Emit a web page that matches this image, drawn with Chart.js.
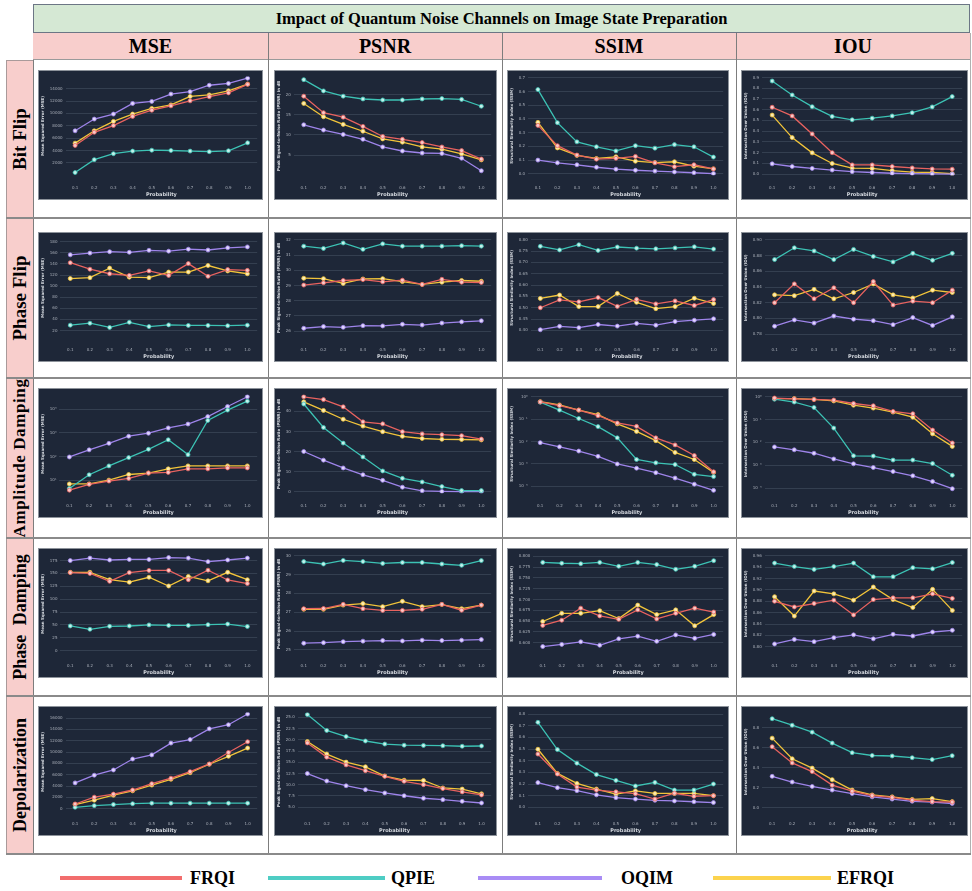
<!DOCTYPE html>
<html>
<head>
<meta charset="utf-8">
<script src="https://cdn.jsdelivr.net/npm/chart.js@4.4.1/dist/chart.umd.min.js"></script>
<style>
html,body{margin:0;padding:0;background:#ffffff;}
#page{position:relative;width:972px;height:891px;overflow:hidden;font-family:"Liberation Serif","Times New Roman",serif;color:#000;}
.abs{position:absolute;box-sizing:border-box;}
.title{left:33px;top:4px;width:937px;height:29px;background:#d5e8d4;border:1px solid #6c7685;display:flex;align-items:center;justify-content:center;font-weight:bold;font-size:16.5px;}
.hdrband{left:33px;top:33px;width:937px;height:27px;background:#f8cecc;border-bottom:1px solid #9a9a9a;}
.colhdr{top:33px;height:27px;display:flex;align-items:center;justify-content:center;font-weight:bold;font-size:20px;}
.rowhdr{left:6px;width:28px;background:#f8cecc;border:1px solid #a99a9a;}
.rowhdr span{position:absolute;left:50%;top:50%;transform:translate(-50%,-50%) rotate(-90deg);white-space:nowrap;font-weight:bold;}
.vline{width:1px;background:#7d7d7d;}
.hline{height:1.5px;background:#8a8a8a;}
.panel{background:#1e2738;border:1px solid #8d939b;}
.panel canvas{display:block;}
.legline{height:4px;top:876px;}
.legtxt{top:866px;font-weight:bold;font-size:18px;line-height:24px;}
</style>
</head>
<body>
<div id="page">
  <div class="abs title">Impact of Quantum Noise Channels on Image State Preparation</div>
  <div class="abs hdrband"></div>
  <div id="layout"></div>
</div>
<script>
// ---------- categories / labels ----------
const probabilities = ['0.1','0.2','0.3','0.4','0.5','0.6','0.7','0.8','0.9','1.0'];
const seriesNames = ['FRQI','QPIE','OQIM','EFRQI'];
const metrics = ['MSE','PSNR','SSIM','IOU'];
const channels = ['Bit Flip','Phase Flip','Amplitude Damping','Phase Damping','Depolarization'];
const axisTitles = ['Mean Squared Error (MSE)','Peak Signal-to-Noise Ratio (PSNR) in dB','Structural Similarity Index (SSIM)','Intersection Over Union (IOU)'];

// ---------- series values: [FRQI, QPIE, OQIM, EFRQI] ----------
const bitFlipMSE = [
  [4810, 6950, 8040, 9520, 10520, 11230, 12040, 12710, 13330, 14710],
  [430, 2520, 3480, 3900, 4050, 4000, 3900, 3810, 3950, 5240],
  [7190, 9090, 9900, 11620, 11950, 13140, 13520, 14570, 14860, 15710],
  [5190, 7190, 8710, 9900, 10810, 11380, 12760, 13000, 13660, 14760]
];
const bitFlipPSNR = [
  [19.6, 15.5, 14.4, 12.1, 9.6, 8.9, 8.1, 7.0, 6.1, 4.0],
  [23.7, 20.9, 19.6, 18.9, 18.65, 18.65, 18.9, 19.0, 18.8, 17.1],
  [12.5, 11.2, 10.1, 8.9, 7.0, 6.0, 5.5, 5.4, 4.2, 1.1],
  [17.8, 14.5, 12.6, 10.9, 9.0, 8.2, 7.0, 6.45, 5.3, 3.8]
];
const bitFlipSSIM = [
  [0.353, 0.205, 0.137, 0.107, 0.113, 0.127, 0.080, 0.052, 0.066, 0.036],
  [0.614, 0.373, 0.233, 0.197, 0.167, 0.205, 0.187, 0.213, 0.197, 0.122],
  [0.100, 0.080, 0.066, 0.048, 0.034, 0.026, 0.020, 0.014, 0.008, 0.002],
  [0.375, 0.189, 0.134, 0.112, 0.124, 0.092, 0.082, 0.088, 0.056, 0.036]
];
const bitFlipIOU = [
  [0.623, 0.542, 0.374, 0.200, 0.086, 0.086, 0.071, 0.058, 0.048, 0.046],
  [0.867, 0.737, 0.628, 0.537, 0.506, 0.521, 0.542, 0.572, 0.626, 0.722],
  [0.096, 0.071, 0.053, 0.038, 0.023, 0.015, 0.008, 0.005, 0.002, 0.000],
  [0.550, 0.340, 0.198, 0.099, 0.056, 0.053, 0.033, 0.018, 0.015, 0.005]
];
const phaseFlipMSE = [
  [142.2, 130.5, 122.3, 119.3, 127.4, 119.3, 140.6, 117.7, 129.9, 128.4],
  [29.7, 33.2, 25.6, 34.8, 27.1, 30.2, 29.2, 29.2, 28.7, 29.7],
  [156.4, 159.5, 162.0, 161.0, 164.6, 163.0, 166.6, 165.1, 169.1, 170.7],
  [113.7, 115.2, 132.5, 116.2, 115.2, 125.4, 125.4, 137.1, 127.4, 122.3]
];
const phaseFlipPSNR = [
  [29.03, 29.18, 29.33, 29.39, 29.24, 29.35, 29.07, 29.41, 29.22, 29.20],
  [31.59, 31.44, 31.80, 31.38, 31.74, 31.59, 31.59, 31.59, 31.62, 31.59],
  [26.19, 26.30, 26.25, 26.36, 26.34, 26.45, 26.40, 26.53, 26.61, 26.68],
  [29.48, 29.45, 29.14, 29.43, 29.45, 29.26, 29.07, 29.22, 29.33, 29.28]
];
const phaseFlipSSIM = [
  [0.500, 0.535, 0.526, 0.545, 0.506, 0.537, 0.517, 0.530, 0.510, 0.536],
  [0.771, 0.755, 0.778, 0.753, 0.768, 0.763, 0.760, 0.764, 0.769, 0.759],
  [0.403, 0.418, 0.412, 0.426, 0.419, 0.431, 0.423, 0.439, 0.445, 0.451],
  [0.541, 0.556, 0.505, 0.505, 0.563, 0.524, 0.496, 0.505, 0.542, 0.519]
];
const phaseFlipIOU = [
  [0.820, 0.844, 0.825, 0.839, 0.820, 0.847, 0.817, 0.822, 0.820, 0.836],
  [0.875, 0.890, 0.886, 0.875, 0.888, 0.879, 0.872, 0.883, 0.874, 0.883],
  [0.790, 0.798, 0.794, 0.803, 0.799, 0.797, 0.792, 0.801, 0.791, 0.802],
  [0.830, 0.829, 0.837, 0.825, 0.833, 0.844, 0.830, 0.826, 0.836, 0.833]
];
const ampDampMSE = [
  [3.9, 6.9, 9.4, 12.2, 20.5, 21.8, 30.7, 30.7, 33.5, 33.5],
  [4.6, 17.3, 41, 91.7, 205, 516, 122, 3350, 9170, 21750],
  [97.2, 194, 365, 729, 972, 1631, 2371, 4870, 12960, 33500],
  [7.1, 7.1, 10.3, 17.8, 20.5, 30.7, 41, 41, 41, 41]
];
const ampDampPSNR = [
  [47.3, 45.9, 42.3, 34.8, 33.8, 29.9, 28.8, 28.4, 27.9, 26.2],
  [43.7, 32.0, 24.2, 17.3, 10.3, 6.6, 4.8, 2.5, 0.5, 0.5],
  [20.0, 15.7, 11.8, 8.4, 5.6, 2.2, 0.4, 0.1, 0.0, 0.0],
  [44.8, 40.5, 36.1, 32.7, 29.9, 27.6, 26.5, 26.1, 26.0, 25.8]
];
const ampDampSSIM = [
  [0.579, 0.398, 0.251, 0.141, 0.0668, 0.0473, 0.01454, 0.00708, 0.00237, 0.000447],
  [0.562, 0.251, 0.106, 0.046, 0.01454, 0.00158, 0.00112, 0.000944, 0.000345, 0.000274],
  [0.00891, 0.00579, 0.00376, 0.00218, 0.0010, 0.00065, 0.00041, 0.000237, 0.000126, 0.0000668],
  [0.596, 0.422, 0.251, 0.158, 0.0613, 0.0282, 0.0109, 0.00326, 0.00158, 0.000422]
];
const ampDampIOU = [
  [0.866, 0.794, 0.750, 0.708, 0.501, 0.398, 0.224, 0.178, 0.0345, 0.00944],
  [0.772, 0.579, 0.335, 0.0422, 0.00259, 0.00251, 0.00168, 0.00168, 0.00119, 0.000365],
  [0.00631, 0.00473, 0.00335, 0.00188, 0.00115, 0.000794, 0.000531, 0.000345, 0.000194, 0.0000944],
  [0.818, 0.818, 0.750, 0.649, 0.422, 0.316, 0.211, 0.126, 0.0237, 0.00668]
];
const phaseDampMSE = [
  [151.6, 150.0, 134.6, 151.6, 155.9, 155.9, 137.8, 156.4, 137.3, 130.3],
  [47.9, 41.5, 47.3, 47.9, 50.0, 48.9, 48.9, 50.5, 51.6, 46.8],
  [175.0, 179.8, 176.1, 177.2, 177.2, 180.9, 179.8, 172.9, 176.1, 179.8],
  [152.2, 152.2, 137.8, 133.0, 142.6, 125.6, 144.2, 135.7, 152.2, 137.8]
];
const phaseDampPSNR = [
  [27.19, 27.20, 27.42, 27.19, 27.10, 27.10, 27.16, 27.42, 27.11, 27.38],
  [29.69, 29.56, 29.75, 29.69, 29.59, 29.64, 29.64, 29.56, 29.49, 29.74],
  [25.36, 25.39, 25.44, 25.47, 25.50, 25.48, 25.52, 25.50, 25.52, 25.55],
  [27.16, 27.16, 27.38, 27.46, 27.30, 27.58, 27.30, 27.41, 27.19, 27.38]
];
const phaseDampSSIM = [
  [0.640, 0.652, 0.680, 0.662, 0.654, 0.676, 0.655, 0.668, 0.680, 0.671],
  [0.786, 0.784, 0.783, 0.786, 0.777, 0.786, 0.781, 0.770, 0.777, 0.790],
  [0.591, 0.596, 0.602, 0.594, 0.609, 0.615, 0.603, 0.618, 0.610, 0.619],
  [0.649, 0.668, 0.668, 0.674, 0.656, 0.687, 0.665, 0.676, 0.639, 0.665]
];
const phaseDampIOU = [
  [0.880, 0.870, 0.876, 0.882, 0.856, 0.883, 0.886, 0.886, 0.893, 0.885],
  [0.947, 0.941, 0.936, 0.941, 0.947, 0.923, 0.923, 0.939, 0.937, 0.948],
  [0.805, 0.813, 0.809, 0.816, 0.821, 0.814, 0.822, 0.819, 0.826, 0.829],
  [0.888, 0.854, 0.898, 0.893, 0.882, 0.905, 0.883, 0.869, 0.901, 0.864]
];
const depolMSE = [
  [823, 2034, 2567, 3293, 4407, 5376, 6538, 7894, 9928, 11817],
  [242, 533, 726, 872, 969, 969, 969, 969, 969, 969],
  [4552, 5908, 6829, 8766, 9492, 11575, 12204, 14093, 14820, 16708],
  [726, 1501, 2373, 3148, 4165, 5182, 6344, 7845, 9250, 10703]
];
const depolPSNR = [
  [19.30, 16.14, 14.41, 13.11, 11.87, 10.76, 10.01, 9.15, 8.40, 7.72],
  [25.61, 22.08, 20.72, 19.73, 19.05, 18.80, 18.74, 18.68, 18.56, 18.62],
  [12.49, 10.82, 9.77, 8.90, 8.16, 7.54, 6.98, 6.67, 6.30, 5.93],
  [19.61, 16.82, 15.03, 13.98, 11.93, 11.00, 10.94, 9.27, 9.02, 7.97]
];
const depolSSIM = [
  [0.457, 0.286, 0.174, 0.148, 0.133, 0.117, 0.071, 0.121, 0.095, 0.100],
  [0.729, 0.495, 0.379, 0.281, 0.231, 0.183, 0.214, 0.148, 0.148, 0.200],
  [0.212, 0.169, 0.143, 0.107, 0.083, 0.071, 0.060, 0.055, 0.048, 0.041],
  [0.498, 0.291, 0.205, 0.157, 0.114, 0.141, 0.119, 0.119, 0.119, 0.100]
];
const depolIOU = [
  [0.611, 0.449, 0.362, 0.227, 0.167, 0.123, 0.104, 0.077, 0.063, 0.058],
  [0.890, 0.825, 0.756, 0.647, 0.551, 0.523, 0.518, 0.501, 0.482, 0.521],
  [0.315, 0.258, 0.214, 0.178, 0.143, 0.110, 0.088, 0.066, 0.058, 0.044],
  [0.696, 0.490, 0.397, 0.282, 0.178, 0.129, 0.110, 0.085, 0.093, 0.063]
];

// ---------- tick labels ----------
const bitFlipMSETicks = [2000, 4000, 6000, 8000, 10000, 12000, 14000];
const bitFlipPSNRTicks = [5, 10, 15, 20];
const bitFlipSSIMTicks = [0.0, 0.1, 0.2, 0.3, 0.4, 0.5, 0.6, 0.7];
const bitFlipIOUTicks = [0.0, 0.1, 0.2, 0.3, 0.4, 0.5, 0.6, 0.7, 0.8, 0.9];
const phaseFlipMSETicks = [20, 40, 60, 80, 100, 120, 140, 160, 180];
const phaseFlipPSNRTicks = [26, 27, 28, 29, 30, 31, 32];
const phaseFlipSSIMTicks = [0.40, 0.45, 0.50, 0.55, 0.60, 0.65, 0.70, 0.75, 0.80];
const phaseFlipIOUTicks = [0.78, 0.80, 0.82, 0.84, 0.86, 0.88, 0.90];
const ampDampMSETicks = [10, 100, 1000, 10000];
const ampDampPSNRTicks = [0, 10, 20, 30, 40];
const ampDampSSIMTicks = [0.0001, 0.001, 0.01, 0.1, 1];
const ampDampIOUTicks = [0.0001, 0.001, 0.01, 0.1, 1];
const phaseDampMSETicks = [0, 25, 50, 75, 100, 125, 150, 175];
const phaseDampPSNRTicks = [25, 26, 27, 28, 29, 30];
const phaseDampSSIMTicks = [0.600, 0.625, 0.650, 0.675, 0.700, 0.725, 0.750, 0.775, 0.800];
const phaseDampIOUTicks = [0.80, 0.82, 0.84, 0.86, 0.88, 0.90, 0.92, 0.94, 0.96];
const depolMSETicks = [0, 2000, 4000, 6000, 8000, 10000, 12000, 14000, 16000];
const depolPSNRTicks = [5.0, 7.5, 10.0, 12.5, 15.0, 17.5, 20.0, 22.5, 25.0];
const depolSSIMTicks = [0.0, 0.1, 0.2, 0.3, 0.4, 0.5, 0.6, 0.7, 0.8];
const depolIOUTicks = [0.0, 0.2, 0.4, 0.6, 0.8];

// ---------- panel table (axis settings) ----------
const panels = [
  [ {data: bitFlipMSE, ticks: bitFlipMSETicks, min: 0, max: 16000, dec: 0},
    {data: bitFlipPSNR, ticks: bitFlipPSNRTicks, min: 0, max: 24.5, dec: 0},
    {data: bitFlipSSIM, ticks: bitFlipSSIMTicks, min: -0.01, max: 0.71, dec: 1},
    {data: bitFlipIOU, ticks: bitFlipIOUTicks, min: -0.01, max: 0.91, dec: 1} ],
  [ {data: phaseFlipMSE, ticks: phaseFlipMSETicks, min: 8, max: 186, dec: 0},
    {data: phaseFlipPSNR, ticks: phaseFlipPSNRTicks, min: 25.6, max: 32.1, dec: 0},
    {data: phaseFlipSSIM, ticks: phaseFlipSSIMTicks, min: 0.37, max: 0.806, dec: 2},
    {data: phaseFlipIOU, ticks: phaseFlipIOUTicks, min: 0.776, max: 0.902, dec: 2} ],
  [ {data: ampDampMSE, ticks: ampDampMSETicks, min: 2.9, max: 42000, log: true},
    {data: ampDampPSNR, ticks: ampDampPSNRTicks, min: -0.8, max: 48.5, dec: 0},
    {data: ampDampSSIM, ticks: ampDampSSIMTicks, min: 0.00005, max: 1.25, log: true},
    {data: ampDampIOU, ticks: ampDampIOUTicks, min: 0.00006, max: 1.25, log: true} ],
  [ {data: phaseDampMSE, ticks: phaseDampMSETicks, min: -5, max: 187, dec: 0},
    {data: phaseDampPSNR, ticks: phaseDampPSNRTicks, min: 24.83, max: 30.07, dec: 0},
    {data: phaseDampSSIM, ticks: phaseDampSSIMTicks, min: 0.5756, max: 0.8045, dec: 3},
    {data: phaseDampIOU, ticks: phaseDampIOUTicks, min: 0.7888, max: 0.9623, dec: 2} ],
  [ {data: depolMSE, ticks: depolMSETicks, min: -450, max: 17000, dec: 0},
    {data: depolPSNR, ticks: depolPSNRTicks, min: 4.1, max: 26.1, dec: 1},
    {data: depolSSIM, ticks: depolSSIMTicks, min: -0.033, max: 0.814, dec: 1},
    {data: depolIOU, ticks: depolIOUTicks, min: -0.033, max: 0.953, dec: 1} ]
];

// ---------- styling / geometry ----------
const seriesColors = ['#e8625f', '#3cc2b4', '#9e84ea', '#f2c43a'];
const pointFills = ['#f8c9c8', '#c4f0ea', '#e0d6fb', '#fbecb4'];
const legendColors = ['#f26d6d', '#4ecdc4', '#a98cf5', '#fcd34d'];
const colBounds = [33, 268, 502, 736, 970];
const rowBounds = [60, 217, 377, 537, 695, 853];
const panelX = [38, 274, 507, 741];
const panelW = [225, 223, 222, 227];
const panelY = [70, 232, 388, 548, 706];
const panelH = 130;
const rowFont = [19, 19, 17, 18, 18];

const layout = document.getElementById('layout');
function addDiv(cls, style, html) {
  const d = document.createElement('div');
  d.className = 'abs ' + cls;
  Object.assign(d.style, style);
  if (html !== undefined) d.innerHTML = html;
  layout.appendChild(d);
  return d;
}

// column headers
metrics.forEach((m, c) => {
  addDiv('colhdr', {left: colBounds[c] + 'px', width: (colBounds[c+1] - colBounds[c]) + 'px'}, m);
});
// row headers
channels.forEach((name, r) => {
  const d = addDiv('rowhdr', {top: rowBounds[r] + 'px', height: (rowBounds[r+1] - rowBounds[r] + 1) + 'px'});
  const s = document.createElement('span');
  s.textContent = name;
  s.style.fontSize = rowFont[r] + 'px';
  if (r === 2) s.style.letterSpacing = '0.6px';
  if (r === 3) s.style.wordSpacing = '5px';
  d.appendChild(s);
});
// table lines
for (let c = 0; c < colBounds.length; c++) {
  const top = c === 0 ? 60 : 33;
  addDiv('vline', {left: colBounds[c] + 'px', top: top + 'px', height: (853 - top + 1) + 'px', background: c === 4 ? '#b0b0b0' : '#7d7d7d'});
}
for (let r = 1; r < rowBounds.length; r++) {
  addDiv('hline', {left: '6px', top: rowBounds[r] + 'px', width: '965px'});
}

// legend
const legendLines = [[60, 122], [268, 117], [478, 124], [713, 118]];
const legendText = [190, 391, 621, 837];
seriesNames.forEach((n, i) => {
  addDiv('legline', {left: legendLines[i][0] + 'px', width: legendLines[i][1] + 'px', background: legendColors[i]});
  addDiv('legtxt', {left: legendText[i] + 'px'}, n);
});

const supers = {'-': '\u207B', '0': '\u2070', '1': '\u00B9', '2': '\u00B2', '3': '\u00B3', '4': '\u2074', '5': '\u2075', '6': '\u2076', '7': '\u2077', '8': '\u2078', '9': '\u2079'};
function powLabel(v) {
  const e = String(Math.round(Math.log10(v)));
  return '10' + e.split('').map(ch => supers[ch]).join('');
}

const fam = "'DejaVu Sans', sans-serif";
panels.forEach((row, r) => {
  row.forEach((p, c) => {
    const box = addDiv('panel', {left: panelX[c] + 'px', top: panelY[r] + 'px', width: panelW[c] + 'px', height: panelH + 'px'});
    const cv = document.createElement('canvas');
    cv.width = panelW[c] - 2;
    cv.height = panelH - 2;
    box.appendChild(cv);
    const datasets = seriesNames.map((name, i) => ({
      label: name,
      data: p.data[i],
      borderColor: seriesColors[i],
      backgroundColor: seriesColors[i],
      pointBackgroundColor: pointFills[i],
      pointBorderColor: seriesColors[i],
      pointRadius: 2,
      pointBorderWidth: 0.8,
      borderWidth: 1.3,
      tension: 0,
      fill: false,
      order: i
    }));
    const tickVals = p.ticks;
    new Chart(cv, {
      type: 'line',
      data: {labels: probabilities, datasets},
      options: {
        responsive: false,
        animation: false,
        devicePixelRatio: 1,
        layout: {padding: {left: 2, right: 4, top: 5, bottom: 1}},
        plugins: {legend: {display: false}, tooltip: {enabled: false}},
        scales: {
          x: {
            type: 'category', offset: true,
            grid: {display: false}, border: {display: false},
            ticks: {color: '#aab0ba', font: {size: 4, family: fam}, padding: 2, maxRotation: 0, autoSkip: false},
            title: {display: true, text: 'Probability', color: '#d6dae0', font: {size: 5, weight: 'bold', family: fam}, padding: {top: 0, bottom: 0}}
          },
          y: {
            type: p.log ? 'logarithmic' : 'linear',
            min: p.min, max: p.max,
            afterBuildTicks: (axis) => { axis.ticks = tickVals.map(v => ({value: v})); },
            grid: {color: '#3a4557', lineWidth: 0.8, drawTicks: false},
            border: {display: false},
            ticks: {
              color: '#aab0ba', font: {size: 4, family: fam}, padding: 3,
              callback: (v) => p.log ? powLabel(v) : Number(v).toFixed(p.dec)
            },
            title: {display: true, text: axisTitles[c], color: '#d6dae0', font: {size: 4, weight: 'bold', family: fam}, padding: {top: 0, bottom: 1}}
          }
        }
      }
    });
  });
});
</script>
</body>
</html>
